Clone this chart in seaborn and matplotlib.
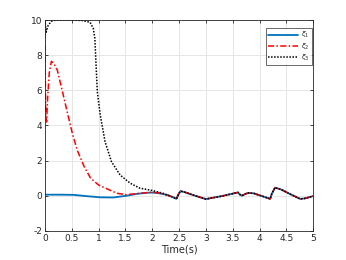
import numpy as np
import pandas as pd
import matplotlib
matplotlib.use("Agg")
import matplotlib.pyplot as plt
from matplotlib.ticker import FuncFormatter
import seaborn as sns

# Shared tail: all three states coincide after ~2.2 s
t_tail = [2.3, 2.4, 2.45, 2.5, 2.53, 2.6, 2.8, 3.0, 3.3, 3.6, 3.63, 3.67, 3.75, 3.8, 3.9,
          4.2, 4.23, 4.29, 4.4, 4.6, 4.76, 4.85, 5.0]
v_tail = [0.02, -0.1, -0.18, 0.15, 0.26, 0.21, 0.0, -0.19, -0.02, 0.19, 0.08, 0.0, 0.12, 0.16, 0.13,
          -0.18, 0.12, 0.46, 0.36, 0.05, -0.18, -0.15, -0.02]

# xi_1 (blue) before the tail
t_xi1 = [0.0, 0.3, 0.53, 0.8, 1.03, 1.27, 1.52, 1.7, 1.9, 2.0, 2.1, 2.2]
v_xi1 = [0.06, 0.06, 0.05, -0.03, -0.09, -0.1, 0.0, 0.1, 0.17, 0.18, 0.15, 0.1]

# xi_2 (red) before the tail
t_xi2 = [0.0, 0.005, 0.015, 0.03, 0.05, 0.08, 0.12, 0.17, 0.23, 0.32, 0.42, 0.51, 0.6, 0.73,
         0.85, 1.0, 1.13, 1.34, 1.52, 1.77, 2.0, 2.1, 2.2]
v_xi2 = [10.0, 7.0, 4.6, 4.2, 5.6, 7.0, 7.65, 7.5, 7.15, 6.0, 4.7, 3.55, 2.6, 1.66,
         1.0, 0.61, 0.43, 0.14, 0.06, 0.14, 0.2, 0.17, 0.1]

# xi_3 (black) before the tail
t_xi3 = [0.0, 0.02, 0.06, 0.12, 0.2, 0.5, 0.7, 0.84, 0.9, 0.93, 0.95, 0.976, 1.03, 1.12,
         1.24, 1.4, 1.59, 1.77, 2.0, 2.2]
v_xi3 = [10.0, 9.3, 9.7, 9.93, 10.0, 10.0, 9.97, 9.87, 9.53, 8.96, 7.6, 5.92, 4.6, 3.08,
         1.94, 1.18, 0.71, 0.43, 0.3, 0.14]

labels = [r"$\xi_1$", r"$\xi_2$", r"$\xi_3$"]
x_ticks = np.arange(0, 5.01, 0.5)
y_ticks = np.arange(-2, 10.01, 2)

frames = []
for lab, t, v in zip(labels, [t_xi1, t_xi2, t_xi3], [v_xi1, v_xi2, v_xi3]):
    frames.append(pd.DataFrame({"t": t + t_tail, "v": v + v_tail, "state": lab}))
df = pd.concat(frames, ignore_index=True)

sns.set_style("ticks")
plt.rcParams["font.family"] = ["DejaVu Sans"]

fig = plt.figure(figsize=(3.46, 2.60), dpi=100)
ax = fig.add_axes([0.13, 0.112, 0.775, 0.811])

styles = {
    labels[0]: dict(color="#0072BD", linestyle="-", linewidth=1.3),
    labels[1]: dict(color="#FF0000", linestyle=(0, (4, 1.5, 1, 1.5)), linewidth=1.1),
    labels[2]: dict(color="#000000", linestyle=(0, (1, 1)), linewidth=1.1),
}
for lab in labels:
    sns.lineplot(data=df[df["state"] == lab], x="t", y="v", ax=ax, label=lab,
                 sort=False, estimator=None, **styles[lab])

ax.set_xlim(0, 5)
ax.set_ylim(-2, 10)
ax.set_xticks(x_ticks)
ax.set_yticks(y_ticks)
fmt = FuncFormatter(lambda x, pos: "%g" % x)
ax.xaxis.set_major_formatter(fmt)
ax.yaxis.set_major_formatter(fmt)
ax.grid(True, color="#e6e6e6", linewidth=0.7)
ax.set_axisbelow(True)
ax.tick_params(direction="in", length=2.5, width=0.6, labelsize=6.5, colors="#262626",
               top=True, right=True, pad=2)
for s in ax.spines.values():
    s.set_color("#262626")
    s.set_linewidth(0.6)
ax.set_xlabel("Time(s)", fontsize=7, color="#262626", labelpad=1)
ax.set_ylabel("")

leg = ax.legend(loc="upper right", fontsize=5, frameon=True, fancybox=False,
                handlelength=4.2, borderpad=0.3, labelspacing=0.15, handletextpad=0.5,
                borderaxespad=0, bbox_to_anchor=(0.995, 0.962))
leg.get_frame().set_edgecolor("#262626")
leg.get_frame().set_linewidth(0.6)

fig.savefig("out.png", dpi=100)
